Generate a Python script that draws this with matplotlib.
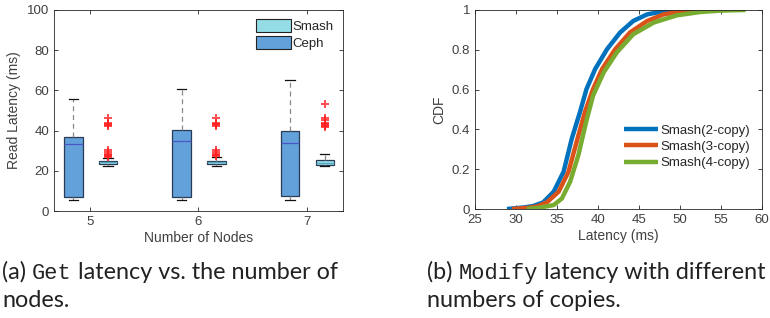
import numpy as np
import matplotlib.pyplot as plt
from matplotlib.patches import Patch

# ---------------------- data ------------------------#
nodes = [5, 6, 7]

# Ceph box stats per node count: low whisker, q1, median, q3, high whisker
ceph_low = [5.5, 5.5, 5.5]
ceph_q1 = [7.0, 7.0, 7.5]
ceph_med = [33.5, 35.0, 34.0]
ceph_q3 = [37.0, 40.5, 40.0]
ceph_high = [55.5, 60.5, 65.0]

# Smash box stats
smash_low = [22.5, 22.5, 22.5]
smash_q1 = [23.5, 23.5, 23.0]
smash_med = [24.5, 24.5, 24.0]
smash_q3 = [25.0, 25.0, 25.5]
smash_high = [26.5, 27.0, 28.5]
smash_outliers = [
    [27.0, 27.5, 28.0, 28.5, 29.5, 30.5, 42.5, 43.0, 43.5, 44.0, 46.5],
    [27.5, 28.0, 28.5, 29.5, 30.5, 42.5, 43.0, 43.5, 44.0, 46.5],
    [42.0, 42.5, 43.0, 43.5, 44.0, 45.5, 46.5, 53.0],
]

# CDF curves: latency (ms) and cdf value
lat_2copy = [28.9, 31.0, 32.1, 33.3, 34.6, 35.8, 36.8, 37.8, 38.6, 39.65, 41.1,
             42.7, 44.3, 46.0, 48.4, 51.5]
cdf_2copy = [0.0, 0.008, 0.015, 0.033, 0.087, 0.187, 0.353, 0.487, 0.603, 0.703,
             0.803, 0.887, 0.945, 0.978, 0.997, 1.0]
lat_3copy = [29.5, 31.5, 32.6, 33.75, 35.2, 36.4, 37.5, 38.4, 39.4, 40.5, 42.1,
             43.9, 46.0, 48.0, 50.9, 54.3]
cdf_3copy = [0.0, 0.006, 0.013, 0.033, 0.087, 0.187, 0.353, 0.487, 0.603, 0.703,
             0.803, 0.887, 0.945, 0.978, 0.997, 1.0]
lat_4copy = [31.3, 32.8, 34.6, 35.6, 36.6, 37.6, 38.55, 39.4, 40.7, 42.3, 44.3,
             46.8, 49.6, 52.5, 55.0, 58.0]
cdf_4copy = [0.0, 0.006, 0.02, 0.053, 0.137, 0.27, 0.437, 0.57, 0.687, 0.787,
             0.878, 0.937, 0.973, 0.99, 0.997, 1.0]
cdf_labels = ['Smash(2-copy)', 'Smash(3-copy)', 'Smash(4-copy)']
cdf_colors = ['#0072BD', '#D95319', '#77AC30']

# ---------------------- style ------------------------#
text_grey = '#404040'
ceph_fill = '#62a1d9'
smash_fill = '#94dde6'
edge = '#2b3a55'

plt.rcParams['font.family'] = 'Liberation Sans'
fig = plt.figure(figsize=(7.7, 3.18), dpi=100)

def style_axes(ax):
    ax.tick_params(direction='in', top=True, right=True, labelsize=9.5,
                   colors='#262626', labelcolor=text_grey, length=3, width=0.6)
    for s in ax.spines.values():
        s.set_color('#262626')
        s.set_linewidth(0.6)

# ---------------------- (a) box plot ------------------------#
ax1 = fig.add_axes([54 / 770, 1 - 211 / 318, 289 / 770, 201 / 318])

def make_stats(low, q1, med, q3, high, fl):
    out = []
    for i in range(len(low)):
        out.append(dict(whislo=low[i], q1=q1[i], med=med[i], q3=q3[i],
                        whishi=high[i], fliers=fl[i]))
    return out

ceph_stats = make_stats(ceph_low, ceph_q1, ceph_med, ceph_q3, ceph_high, [[], [], []])
smash_stats = make_stats(smash_low, smash_q1, smash_med, smash_q3, smash_high,
                         smash_outliers)

pos = np.array(nodes, dtype=float)
common = dict(widths=0.17, patch_artist=True,
              whiskerprops=dict(color='#8a8a8a', linestyle=(0, (4, 3)), linewidth=0.9),
              capprops=dict(color='#111111', linewidth=0.9),
              flierprops=dict(marker='+', markeredgecolor='#ff2020', markersize=5.5,
                              markeredgewidth=1.4, alpha=0.8, linestyle='none'))
ax1.bxp(ceph_stats, positions=pos - 0.155,
        boxprops=dict(facecolor=ceph_fill, edgecolor=edge, linewidth=0.9),
        medianprops=dict(color='#4b55c8', linewidth=0.9), **common)
ax1.bxp(smash_stats, positions=pos + 0.165,
        boxprops=dict(facecolor=smash_fill, edgecolor=edge, linewidth=0.9),
        medianprops=dict(color='#5aa8c0', linewidth=0.9), **common)

ax1.set_xlim(4.667, 7.333)
ax1.set_ylim(0, 100)
ax1.set_xticks(nodes)
ax1.set_xticklabels([str(n) for n in nodes])
ax1.set_yticks([0, 20, 40, 60, 80, 100])
ax1.set_xlabel('Number of Nodes', fontsize=10, color=text_grey, labelpad=2)
ax1.set_ylabel('Read Latency (ms)', fontsize=10, color=text_grey, labelpad=4)
style_axes(ax1)
ax1.legend(handles=[Patch(facecolor=smash_fill, edgecolor='#222222', linewidth=0.8),
                    Patch(facecolor=ceph_fill, edgecolor='#222222', linewidth=0.8)],
           labels=['Smash', 'Ceph'], loc='upper right', frameon=False,
           fontsize=9.5, handlelength=2.6, handleheight=1.1, handletextpad=0.15,
           labelspacing=0.25, borderaxespad=0.3, labelcolor='#262626')

# ---------------------- (b) CDF ------------------------#
ax2 = fig.add_axes([475 / 770, 1 - 209 / 318, 287 / 770, 199 / 318])
for lat, cdf, lab, col in zip([lat_2copy, lat_3copy, lat_4copy],
                              [cdf_2copy, cdf_3copy, cdf_4copy],
                              cdf_labels, cdf_colors):
    ax2.plot(lat, cdf, color=col, linewidth=3.2, label=lab, solid_capstyle='butt')
ax2.set_xlim(25, 60)
ax2.set_ylim(0, 1)
ax2.set_xticks([25, 30, 35, 40, 45, 50, 55, 60])
ax2.set_yticks([0, 0.2, 0.4, 0.6, 0.8, 1])
ax2.set_yticklabels(['0', '0.2', '0.4', '0.6', '0.8', '1'])
ax2.set_xlabel('Latency (ms)', fontsize=10, color=text_grey, labelpad=2)
ax2.set_ylabel('CDF', fontsize=10, color=text_grey, labelpad=4)
style_axes(ax2)
ax2.legend(loc='lower right', bbox_to_anchor=(1.0, 0.14), frameon=False,
           fontsize=9.5, handlelength=2.6, handletextpad=0.2, labelspacing=0.3,
           labelcolor='#262626')

# ---------------------- captions ------------------------#
cap_font = 'Lato'
mono_font = 'Liberation Mono'
cap_size = 16.8
renderer = fig.canvas.get_renderer()

def caption(x_px, y_px, pieces):
    # place text pieces one after another, in pixel units
    x = x_px
    for s, fam, gap in pieces:
        size = cap_size - 1 if fam == mono_font else cap_size
        t = fig.text(x / 770, 1 - y_px / 318, s, family=fam, fontsize=size,
                     color='#222222', va='baseline')
        x += t.get_window_extent(renderer).width + gap

caption(2, 279, [('(a)', cap_font, 6), ('Get', mono_font, 6),
                 ('latency vs. the number of', cap_font, 0)])
caption(2, 307, [('nodes.', cap_font, 0)])
caption(427, 279, [('(b)', cap_font, 6), ('Modify', mono_font, 6),
                   ('latency with different', cap_font, 0)])
caption(427, 307, [('numbers of copies.', cap_font, 0)])

fig.savefig('out.png', dpi=100)
